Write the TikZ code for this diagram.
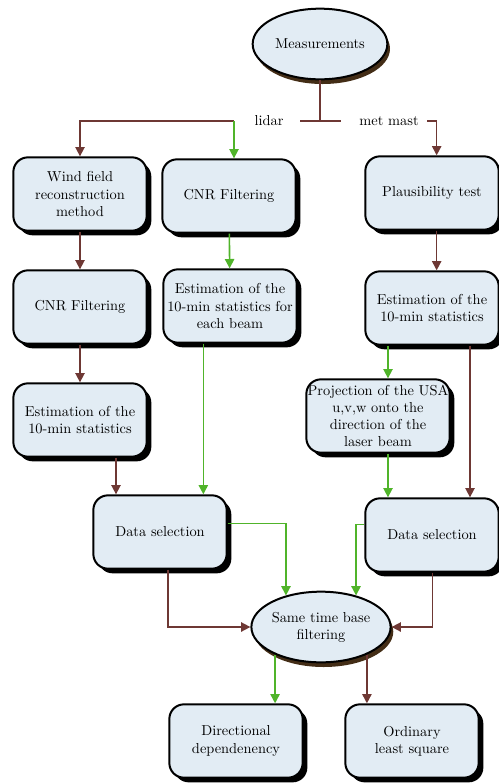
\documentclass[tikz,border=0pt]{standalone}
\usepackage{tikz}
\usetikzlibrary{arrows.meta,shapes.geometric,shadows}
\definecolor{boxfill}{RGB}{226,236,244}
\definecolor{darkred}{RGB}{110,56,52}
\definecolor{leafgreen}{RGB}{80,180,42}

\begin{document}
\begin{tikzpicture}[x=0.75pt,y=-0.75pt,
  font=\fontsize{10.8}{12.8}\selectfont,
  box/.style={draw, line width=1.5pt, rounded corners=11pt, fill=boxfill,
    align=center, minimum width=100pt, minimum height=55pt, inner sep=1pt,
    drop shadow={shadow xshift=3.5pt, shadow yshift=-3.5pt, fill=black, opacity=1}},
  oval/.style={ellipse, draw, line width=1.5pt, fill=boxfill, align=center,
    minimum width=101pt, minimum height=53pt, inner sep=0pt,
    drop shadow={shadow xshift=2pt, shadow yshift=-3.5pt, fill=black!65!brown, opacity=1}},
  redline/.style={draw=darkred, line width=1.2pt, -{Triangle[length=7pt,width=7pt]}},
  greenline/.style={draw=leafgreen, line width=1.2pt, -{Triangle[length=7pt,width=7pt]}}]
\useasboundingbox (0,0) rectangle (499,783);

% top
\node[oval] (meas) at (320,44) {Measurements};
\node (lidar) at (269,121) {lidar};
\node (metmast) at (389,121) {met mast};

% lidar branch
\node[box] (wind) at (80,194) {Wind field\\reconstruction\\method};
\node[box] (cnrleft) at (80,307) {CNR Filtering};
\node[box] (estleft) at (80,420) {Estimation of the\\10-min statistics};
\node[box] (cnrmid) at (229,196) {CNR Filtering};
\node[box] (estmid) at (230,306) {Estimation of the\\10-min statistics for\\each beam};
\node[box] (dsleft) at (160,532) {Data selection};

% met mast branch
\node[box] (plaus) at (432,193) {Plausibility test};
\node[box] (estright) at (432,308) {Estimation of the\\10-min statistics};
\node[box] (proj) at (378,416) {Projection of the USA\\u,v,w onto the\\direction of the\\laser beam};
\node[box] (dsright) at (432,535) {Data selection};

% bottom
\node[oval] (same) at (321,627) {Same time base\\filtering};
\node[box] (dirdep) at (236,741) {Directional\\dependenency};
\node[box] (ols) at (412,741) {Ordinary\\least square};

% split under Measurements
\draw[redline,-] (meas.south) -- (meas.south |- lidar) coordinate (tee);
\draw[redline,-] ([xshift=-15pt]tee) -- ([xshift=15.5pt]tee);
\coordinate (split) at (234,121);
\draw[redline] (split) -| (wind.north);
\draw[greenline] (split) -- (split |- cnrmid.north);
\draw[redline] ([xshift=3pt]metmast.east) -| ([xshift=3.5pt]plaus.north);

% lidar chain
\draw[redline] (wind) -- (cnrleft);
\draw[redline] (cnrleft) -- (estleft);
\draw[redline] ([xshift=27pt]estleft.south) -- ([xshift=27pt]estleft.south |- dsleft.north);
\draw[greenline] (cnrmid) -- (estmid);
\draw[greenline] ([xshift=-20pt]estmid.south) -- ([xshift=-20pt]estmid.south |- dsleft.north);

% met mast chain
\draw[redline] ([xshift=3.5pt]plaus.south) -- ([xshift=3.5pt]estright.north);
\draw[greenline] ([xshift=-33pt]estright.south) -- ([xshift=7.5pt]proj.north);
\draw[redline] ([xshift=28.5pt]estright.south) -- ([xshift=28.5pt]estright.south |- dsright.north);
\draw[greenline] ([xshift=7.5pt]proj.south) -- ([xshift=7.5pt]proj.south |- dsright.north);

% into the time base filter
\draw[greenline] ([yshift=6.5pt]dsleft.east) -| (same.138);
\draw[greenline] ([yshift=8pt]dsright.west) -| (same.42);
\draw[redline] ([xshift=6pt]dsleft.south) |- (same.west);
\draw[redline] ([xshift=0.5pt]dsright.south) |- (same.east);

% results
\draw[greenline] (same.211) -- (same.211 |- dirdep.north);
\draw[redline] (same.329) -- (same.329 |- ols.north);
\end{tikzpicture}
\end{document}
